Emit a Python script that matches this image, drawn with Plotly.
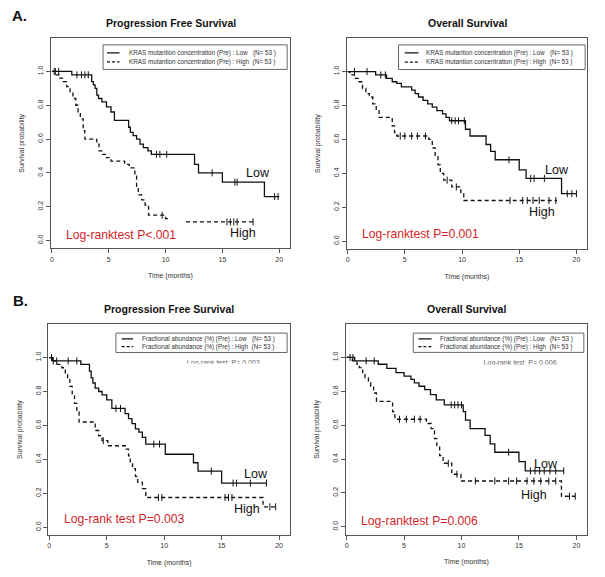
import numpy as np
import plotly.graph_objects as go

W, H = 605, 577
FONT = "Liberation Sans, Arial, sans-serif"

# ---------------- data ----------------
# Panel A, Progression Free Survival
a_pfs_low_t = [0, 1.75, 3.5, 3.65, 3.8, 3.95, 4.1, 4.4, 4.8, 5.2, 5.5, 6.75, 6.9, 7.15, 7.45, 7.75, 8.05, 8.45, 8.75, 12.55, 12.9, 15.0, 18.7]
a_pfs_low_s = [1.0, 0.98, 0.94, 0.92, 0.90, 0.86, 0.84, 0.82, 0.79, 0.76, 0.71, 0.67, 0.64, 0.62, 0.60, 0.57, 0.55, 0.53, 0.51, 0.45, 0.40, 0.345, 0.26]
a_pfs_low_end = 20.0
a_pfs_low_cens = [0.3, 0.6, 2.2, 2.6, 2.9, 3.2, 9.2, 9.5, 10.1, 14.1, 16.1, 16.3, 19.6, 19.9]

a_pfs_high_t = [0, 0.3, 0.7, 1.0, 1.3, 1.6, 1.85, 2.1, 2.3, 2.5, 2.75, 2.9, 3.95, 4.15, 4.4, 4.8, 5.2, 6.4, 6.8, 7.3, 7.45, 7.6, 7.9, 8.2, 8.5, 10.0, 10.2]
a_pfs_high_s = [1.0, 0.98, 0.96, 0.94, 0.91, 0.88, 0.84, 0.80, 0.76, 0.72, 0.65, 0.60, 0.57, 0.53, 0.51, 0.49, 0.47, 0.45, 0.43, 0.38, 0.32, 0.27, 0.24, 0.21, 0.15, 0.13, 0.11]
a_pfs_high_end = 17.7
a_pfs_high_gap = [10.2, 11.8]
a_pfs_high_cens = [0.2, 9.7, 15.4, 15.7, 16.0, 16.3, 17.7]

# Panel A, Overall Survival
a_os_low_t = [0, 2.45, 3.4, 3.9, 4.3, 4.7, 5.6, 5.9, 6.2, 6.6, 7.0, 7.4, 7.8, 8.3, 8.6, 8.9, 10.3, 10.7, 12.1, 12.5, 12.9, 15.0, 15.6, 18.7]
a_os_low_s = [1.0, 0.98, 0.96, 0.94, 0.93, 0.91, 0.89, 0.87, 0.85, 0.83, 0.81, 0.79, 0.77, 0.75, 0.73, 0.71, 0.66, 0.62, 0.57, 0.53, 0.48, 0.42, 0.37, 0.28]
a_os_low_end = 20.0
a_os_low_cens = [0.6, 1.7, 2.9, 3.3, 9.1, 9.4, 9.7, 10.2, 14.1, 16.0, 16.3, 17.2, 19.2, 19.6, 20.0]

a_os_high_t = [0, 0.2, 0.6, 1.0, 1.3, 1.6, 1.9, 2.2, 2.5, 2.75, 3.9, 4.1, 4.3, 7.1, 7.4, 7.65, 7.9, 8.1, 8.4, 9.1, 9.9, 10.15]
a_os_high_s = [1.0, 0.98, 0.96, 0.94, 0.90, 0.87, 0.85, 0.81, 0.77, 0.73, 0.68, 0.64, 0.62, 0.60, 0.55, 0.50, 0.45, 0.40, 0.36, 0.32, 0.28, 0.24]
a_os_high_end = 18.3
a_os_high_cens = [4.6, 5.0, 5.6, 6.1, 6.8, 8.7, 9.5, 14.2, 15.3, 15.7, 16.2, 16.75, 17.6, 18.2]

# Panel B, Progression Free Survival
b_pfs_low_t = [0, 0.3, 2.75, 3.5, 3.65, 3.8, 4.0, 4.3, 4.6, 5.0, 5.45, 6.6, 6.9, 7.2, 7.5, 7.8, 8.1, 8.4, 10.1, 12.55, 12.95, 15.0]
b_pfs_low_s = [1.0, 0.98, 0.96, 0.92, 0.88, 0.85, 0.82, 0.80, 0.78, 0.75, 0.70, 0.67, 0.64, 0.61, 0.58, 0.56, 0.53, 0.49, 0.43, 0.38, 0.33, 0.26]
b_pfs_low_end = 18.9
b_pfs_low_cens = [0.35, 0.65, 1.65, 2.4, 5.8, 6.2, 9.1, 9.6, 14.1, 16.0, 16.3, 17.5, 18.9]

b_pfs_high_t = [0, 0.3, 0.7, 1.1, 1.4, 1.6, 1.8, 2.0, 2.2, 2.4, 2.6, 4.0, 4.3, 4.6, 5.1, 6.6, 6.9, 7.05, 7.25, 7.5, 7.7, 8.1, 8.4, 18.6]
b_pfs_high_s = [1.0, 0.98, 0.96, 0.94, 0.91, 0.87, 0.83, 0.78, 0.73, 0.68, 0.62, 0.57, 0.54, 0.51, 0.48, 0.46, 0.42, 0.38, 0.345, 0.30, 0.265, 0.227, 0.175, 0.12]
b_pfs_high_end = 19.9
b_pfs_high_cens = [0.2, 4.7, 9.5, 9.8, 15.3, 15.6, 15.9, 19.2, 19.7]

# Panel B, Overall Survival
b_os_low_t = [0, 0.7, 2.75, 3.5, 4.3, 5.0, 5.6, 5.9, 6.3, 6.8, 7.3, 7.8, 8.5, 10.15, 10.35, 10.75, 12.05, 12.5, 12.9, 15.0, 15.55]
b_os_low_s = [1.0, 0.98, 0.96, 0.935, 0.91, 0.89, 0.87, 0.85, 0.83, 0.81, 0.78, 0.75, 0.72, 0.68, 0.63, 0.58, 0.54, 0.49, 0.44, 0.385, 0.33]
b_os_low_end = 18.9
b_os_low_cens = [0.55, 1.7, 2.4, 9.1, 9.4, 9.7, 10.0, 14.1, 16.0, 16.4, 16.8, 17.2, 17.7, 18.2, 18.9]

b_os_high_t = [0, 0.5, 0.9, 1.1, 1.4, 1.6, 1.9, 2.1, 2.35, 2.6, 4.0, 4.2, 6.95, 7.35, 7.65, 7.85, 8.1, 8.4, 9.15, 9.95, 18.7]
b_os_high_s = [1.0, 0.98, 0.96, 0.94, 0.91, 0.88, 0.86, 0.83, 0.79, 0.74, 0.68, 0.635, 0.61, 0.58, 0.52, 0.47, 0.42, 0.375, 0.31, 0.27, 0.18]
b_os_high_end = 19.9
b_os_high_cens = [0.3, 4.6, 5.2, 5.9, 6.4, 8.85, 9.6, 11.2, 12.9, 14.1, 14.8, 15.7, 16.3, 16.9, 17.6, 18.2, 19.4, 19.9]

x_ticks = [0, 5, 10, 15, 20]
y_ticks = [0.0, 0.2, 0.4, 0.6, 0.8, 1.0]
y_tick_labels = ["0.0", "0.2", "0.4", "0.6", "0.8", "1.0"]

titles = ["Progression Free Survival", "Overall Survival", "Progression Free Survival", "Overall Survival"]
legend_prefix = ["KRAS mutantion concentration (Pre)", "KRAS mutantion concentration (Pre)",
                 "Fractional abundance (%) (Pre)", "Fractional abundance (%) (Pre)"]
group_n = [53, 53]
pvalue_texts = ["Log-ranktest P<.001", "Log-ranktest P=0.001", "Log-rank test P=0.003", "Log-ranktest P=0.006"]
hidden_pvalue_texts = [None, None, "Log-rank test  P= 0.003", "Log-rank test  P= 0.006"]

# ---------------- helpers ----------------
def level(times, surv, x):
    i = int(np.searchsorted(np.asarray(times, float), x, side="right")) - 1
    return surv[max(i, 0)]


def step_path(times, surv, end, gap=None):
    xs = list(times) + [end]
    ys = list(surv) + [surv[-1]]
    if gap:
        gs, ge = gap
        nx, ny = [], []
        for x, y in zip(xs, ys):
            if x < gs:
                nx.append(x); ny.append(y)
        nx += [gs, None, ge]
        ny += [level(times, surv, gs - 1e-9), None, level(times, surv, ge)]
        for x, y in zip(xs, ys):
            if x > ge:
                nx.append(x); ny.append(y)
        xs, ys = nx, ny
    return xs, ys


def dom_x(l, r):
    return [l / W, r / W]


def dom_y(t, b):
    return [1 - b / H, 1 - t / H]


def px(x):
    return x / W


def py(y):
    return 1 - y / H


panels = [
    dict(low=(a_pfs_low_t, a_pfs_low_s, a_pfs_low_end, None, a_pfs_low_cens),
         high=(a_pfs_high_t, a_pfs_high_s, a_pfs_high_end, a_pfs_high_gap, a_pfs_high_cens),
         box=(51, 38.3, 290, 248.3), leg=(4.5, 20.7, 1.157, 1.012), sample=(4.85, 5.95), text_x=6.6,
         rows=(1.11, 1.056), red=(64.3, 235), low_lbl=(244, 172.7), high_lbl=(228, 233.3)),
    dict(low=(a_os_low_t, a_os_low_s, a_os_low_end, None, a_os_low_cens),
         high=(a_os_high_t, a_os_high_s, a_os_high_end, None, a_os_high_cens),
         box=(346.7, 38.3, 587.3, 249), leg=(4.45, 20.76, 1.157, 1.012), sample=(5.0, 6.2), text_x=6.7,
         rows=(1.11, 1.056), red=(360, 234.3), low_lbl=(543.3, 170), high_lbl=(526.7, 212.3)),
    dict(low=(b_pfs_low_t, b_pfs_low_s, b_pfs_low_end, None, b_pfs_low_cens),
         high=(b_pfs_high_t, b_pfs_high_s, b_pfs_high_end, None, b_pfs_high_cens),
         box=(48.3, 324.3, 290, 535), leg=(5.8, 20.7, 1.144, 1.03), sample=(6.3, 7.3), text_x=7.9,
         rows=(1.11, 1.064), red=(61.7, 519.3), low_lbl=(242.3, 474.3), high_lbl=(231.7, 509.3),
         hidden=(15.15, 0.969)),
    dict(low=(b_os_low_t, b_os_low_s, b_os_low_end, None, b_os_low_cens),
         high=(b_os_high_t, b_os_high_s, b_os_high_end, None, b_os_high_cens),
         box=(345.7, 324.3, 587.3, 534.5), leg=(5.8, 20.65, 1.144, 1.03), sample=(6.25, 7.4), text_x=7.95,
         rows=(1.11, 1.064), red=(359.3, 520.7), low_lbl=(532.3, 463.7), high_lbl=(519, 495),
         hidden=(15.1, 0.963)),
]

fig = go.Figure()
shapes, annotations = [], []
LINE_COL = "#111111"
AX_COL = "#555555"
RED = "#d21f2b"

for i, p in enumerate(panels, start=1):
    xa = "x" if i == 1 else f"x{i}"
    ya = "y" if i == 1 else f"y{i}"
    for key, dash, grp in (("low", "solid", "Low"), ("high", "4px,3px", "High")):
        t, s, end, gap, cens = p[key]
        xs, ys = step_path(t, s, end, gap)
        fig.add_trace(go.Scatter(x=xs, y=ys, mode="lines", line=dict(color=LINE_COL, width=1.3, dash=dash, shape="hv"),
                                 connectgaps=False, xaxis=xa, yaxis=ya, showlegend=False, name=grp, hoverinfo="skip"))
        cy = [level(t, s, c) for c in cens]
        fig.add_trace(go.Scatter(x=cens, y=cy, mode="markers",
                                 marker=dict(symbol="line-ns", size=5, line=dict(color=LINE_COL, width=1)),
                                 xaxis=xa, yaxis=ya, showlegend=False, hoverinfo="skip"))
    # hidden/overpainted p-value text
    if p.get("hidden"):
        hx, hy = p["hidden"]
        fig.add_trace(go.Scatter(x=[hx], y=[hy], mode="text", text=[hidden_pvalue_texts[i - 1]],
                                 textfont=dict(family=FONT, size=7, color="#666666"), textposition="middle center",
                                 xaxis=xa, yaxis=ya, showlegend=False, hoverinfo="skip"))
        shapes.append(dict(type="rect", xref=xa, yref=ya, x0=11.0, x1=19.6, y0=0.925, y1=hy - 0.004,
                           fillcolor="white", line=dict(width=0), layer="above"))

    l, t_, r, b = p["box"]
    fig.layout[("xaxis" if i == 1 else f"xaxis{i}")] = dict(
        domain=dom_x(l, r), range=[-0.08, 20.95], anchor=ya, tickvals=x_ticks, ticks="outside", ticklen=4,
        tickcolor=AX_COL, showline=True, linecolor=AX_COL, linewidth=1, mirror=True, showgrid=False, zeroline=False,
        automargin=False, tickfont=dict(family=FONT, size=7, color="#333333"),
        title=dict(text="Time (months)", font=dict(family=FONT, size=7, color="#333333"), standoff=11))
    fig.layout[("yaxis" if i == 1 else f"yaxis{i}")] = dict(
        domain=dom_y(t_, b), range=[-0.046, 1.196], anchor=xa, tickvals=y_ticks, ticktext=y_tick_labels,
        tickangle=-90, ticks="outside", ticklen=4, tickcolor=AX_COL, showline=True, linecolor=AX_COL, linewidth=1,
        mirror=True, showgrid=False, zeroline=False, automargin=False,
        tickfont=dict(family=FONT, size=7, color="#333333"),
        title=dict(text="Survival probability", font=dict(family=FONT, size=7, color="#333333"), standoff=11))

    # legend box (R style, drawn in user coordinates)
    lx0, lx1, ly1, ly0 = p["leg"]
    shapes.append(dict(type="rect", xref=xa, yref=ya, x0=lx0, x1=lx1, y0=ly0, y1=ly1,
                       line=dict(color="#666666", width=1), fillcolor="white", layer="above"))
    sx0, sx1 = p["sample"]
    for (grp, dash), ry in zip((("Low", "solid"), ("High", "dash")), p["rows"]):
        shapes.append(dict(type="line", xref=xa, yref=ya, x0=sx0, x1=sx1, y0=ry, y1=ry,
                           line=dict(color=LINE_COL, width=1.2, dash="solid" if dash == "solid" else "3px,2px"),
                           layer="above"))
        pad = "   " if grp == "Low" else "  "
        annotations.append(dict(xref=xa, yref=ya, x=p["text_x"], y=ry, xanchor="left", yanchor="middle",
                                text=f"{legend_prefix[i - 1]} : {grp}{pad}(N= {group_n[0]} )", showarrow=False,
                                font=dict(family=FONT, size=6.3, color="#333333")))

    # panel title
    annotations.append(dict(xref="paper", yref="paper", x=px((l + r) / 2), y=py(23.5 if i <= 2 else 309.3),
                            xanchor="center", yanchor="middle", text=f"<b>{titles[i - 1]}</b>", showarrow=False,
                            font=dict(family=FONT, size=10.5, color="#111111")))
    # red p-value
    rx, ry = p["red"]
    annotations.append(dict(xref="paper", yref="paper", x=px(rx), y=py(ry), xanchor="left", yanchor="middle",
                            text=pvalue_texts[i - 1], showarrow=False, font=dict(family=FONT, size=12.2, color=RED)))
    # group labels
    for lbl, (gx, gy) in (("Low", p["low_lbl"]), ("High", p["high_lbl"])):
        annotations.append(dict(xref="paper", yref="paper", x=px(gx), y=py(gy), xanchor="left", yanchor="middle",
                                text=lbl, showarrow=False, font=dict(family=FONT, size=12.5, color="#111111")))

# panel letters
annotations.append(dict(xref="paper", yref="paper", x=px(9.5), y=py(16), xanchor="left", yanchor="middle",
                        text="<b>A.</b>", showarrow=False, font=dict(family=FONT, size=15, color="#111111")))
annotations.append(dict(xref="paper", yref="paper", x=px(10.5), y=py(300), xanchor="left", yanchor="middle",
                        text="<b>B.</b>", showarrow=False, font=dict(family=FONT, size=15, color="#111111")))

fig.update_layout(width=W, height=H, margin=dict(l=0, r=0, t=0, b=0), paper_bgcolor="white",
                  plot_bgcolor="white", showlegend=False, shapes=shapes, annotations=annotations)
fig.write_html("out.html", config={"displayModeBar": False},
               post_script="document.body.style.margin='0';document.body.style.overflow='hidden';")
